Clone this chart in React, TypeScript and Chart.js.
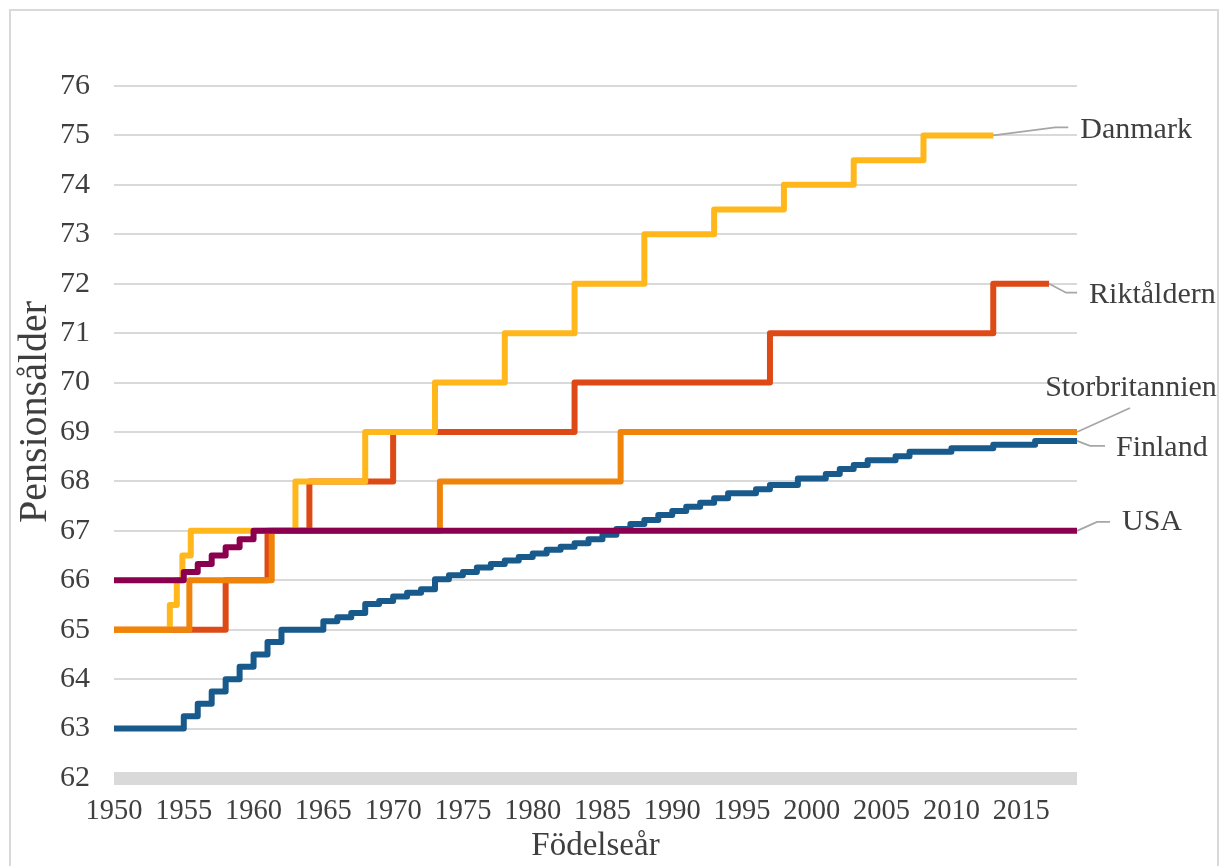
import React, { useEffect, useRef } from 'react';
import { Chart, registerables } from 'chart.js';

Chart.register(...registerables);

// ---- Data ----
const X_MIN = 1950;
const X_MAX = 2019;
const Y_MIN = 62;
const Y_MAX = 76;

const danmarkYears = [1950, 1954, 1954.5, 1954.9, 1955.5, 1963, 1968, 1973, 1978, 1983, 1988, 1993, 1998, 2003, 2008, 2013];
const danmarkAges = [65, 65.5, 66, 66.5, 67, 68, 69, 70, 71, 72, 73, 73.5, 74, 74.5, 75, 75];

const riktYears = [1950, 1958, 1961, 1964, 1970, 1983, 1997, 2013, 2017];
const riktAges = [65, 66, 67, 68, 69, 70, 71, 72, 72];

const ukYears = [1950, 1955.4, 1961.3, 1973.35, 1986.3, 2019];
const ukAges = [65, 66, 67, 68, 69, 69];

const finlandYears = [1950, 1955, 1956, 1957, 1958, 1959, 1960, 1961, 1962,
  1965, 1966, 1967, 1968, 1969, 1970, 1971, 1972, 1973, 1974,
  1975, 1976, 1977, 1978, 1979, 1980, 1981, 1982, 1983, 1984,
  1985, 1986, 1987, 1988, 1989, 1990, 1991, 1992, 1993, 1994,
  1996, 1997, 1999, 2001, 2002, 2003, 2004, 2006, 2007, 2010, 2013, 2016, 2019];
const finlandAges = [63, 63.25, 63.5, 63.75, 64, 64.25, 64.5, 64.75, 65,
  65.17, 65.25, 65.34, 65.52, 65.58, 65.67, 65.75, 65.82, 66.02, 66.1,
  66.17, 66.26, 66.33, 66.4, 66.47, 66.54, 66.62, 66.68, 66.75, 66.83,
  66.92, 67.04, 67.14, 67.22, 67.32, 67.4, 67.49, 67.57, 67.66, 67.76,
  67.84, 67.93, 68.06, 68.15, 68.25, 68.33, 68.43, 68.51, 68.6, 68.67, 68.74, 68.82, 68.82];

const usaYears = [1950, 1955, 1956, 1957, 1958, 1959, 1960, 2019];
const usaAges = [66, 66.17, 66.33, 66.5, 66.67, 66.83, 67, 67];

const seriesNames = ['Danmark', 'Riktåldern', 'Storbritannien', 'Finland', 'USA'];

const xTitle = 'Födelseår';
const yTitle = 'Pensionsålder';

// ---- Styles ----
const FONT = '"Liberation Serif", "Times New Roman", serif';
const TEXT = '#3f3f3f';
const GRID = '#d9d9d9';
const LEADER = '#a6a6a6';

const colors: Record<string, string> = {
  Danmark: '#FFB71B',
  'Riktåldern': '#DE4A16',
  Storbritannien: '#F0830A',
  Finland: '#175A8B',
  USA: '#8A004F',
};

// draw order: higher order drawn first (below)
const drawOrder: Record<string, number> = {
  'Riktåldern': 5,
  Danmark: 4,
  Storbritannien: 3,
  Finland: 2,
  USA: 1,
};

// leader line offsets and text offsets relative to the series end point (pixels)
const labelLayout: Record<string, { leader: number[][]; text: number[]; align: CanvasTextAlign }> = {
  Danmark: { leader: [[62, -8], [75, -8]], text: [87, -5], align: 'left' },
  'Riktåldern': { leader: [[17, 9], [28, 9]], text: [40, 11], align: 'left' },
  Storbritannien: { leader: [[53, -24]], text: [54, -44], align: 'center' },
  Finland: { leader: [[13, 5], [28, 5]], text: [39, 7], align: 'left' },
  USA: { leader: [[20, -9], [33, -9]], text: [45, -9], align: 'left' },
};

function toPoints(xs: number[], ys: number[]) {
  return xs.map((x, i) => ({ x, y: ys[i] }));
}

const seriesData: Record<string, { x: number; y: number }[]> = {
  Danmark: toPoints(danmarkYears, danmarkAges),
  'Riktåldern': toPoints(riktYears, riktAges),
  Storbritannien: toPoints(ukYears, ukAges),
  Finland: toPoints(finlandYears, finlandAges),
  USA: toPoints(usaYears, usaAges),
};

const frameAndLabels = {
  id: 'frameAndLabels',
  beforeDraw(chart: any) {
    const ctx = chart.ctx;
    ctx.save();
    ctx.fillStyle = '#ffffff';
    ctx.fillRect(0, 0, chart.width, chart.height);
    ctx.strokeStyle = GRID;
    ctx.lineWidth = 2;
    ctx.strokeRect(10, 10, chart.width - 13, chart.height + 20);
    ctx.restore();
  },
  beforeDatasetsDraw(chart: any) {
    const { ctx, chartArea } = chart;
    ctx.save();
    // thick horizontal axis bar
    ctx.fillStyle = GRID;
    ctx.fillRect(chartArea.left, chartArea.bottom - 6, chartArea.right - chartArea.left, 13);
    // y axis title
    ctx.fillStyle = TEXT;
    ctx.font = `40px ${FONT}`;
    ctx.textAlign = 'center';
    ctx.textBaseline = 'middle';
    ctx.translate(35, (chartArea.top + chartArea.bottom) / 2 - 20);
    ctx.rotate(-Math.PI / 2);
    ctx.fillText(yTitle, 0, 0);
    ctx.restore();
  },
  afterDatasetsDraw(chart: any) {
    const ctx = chart.ctx;
    ctx.save();
    chart.data.datasets.forEach((ds: any, i: number) => {
      const meta = chart.getDatasetMeta(i);
      const last = meta.data[meta.data.length - 1];
      const lay = labelLayout[ds.label];
      if (!last || !lay) return;
      const x0 = last.x;
      const y0 = last.y;
      ctx.strokeStyle = LEADER;
      ctx.lineWidth = 1.8;
      ctx.beginPath();
      ctx.moveTo(x0, y0);
      lay.leader.forEach((p) => ctx.lineTo(x0 + p[0], y0 + p[1]));
      ctx.stroke();
      ctx.fillStyle = TEXT;
      ctx.font = `30px ${FONT}`;
      ctx.textAlign = lay.align;
      ctx.textBaseline = 'middle';
      ctx.fillText(ds.label, x0 + lay.text[0], y0 + lay.text[1]);
    });
    ctx.restore();
  },
};

export default function App() {
  const ref = useRef<HTMLCanvasElement | null>(null);

  useEffect(() => {
    if (!ref.current) return;
    const chart = new Chart(ref.current, {
      type: 'line',
      data: {
        datasets: seriesNames.map((name) => ({
          label: name,
          data: seriesData[name],
          borderColor: colors[name],
          backgroundColor: colors[name],
          borderWidth: 6,
          stepped: true,
          pointRadius: 0,
          fill: false,
          order: drawOrder[name],
          borderJoinStyle: 'round' as const,
          borderCapStyle: 'butt' as const,
        })),
      },
      options: {
        animation: false,
        responsive: false,
        maintainAspectRatio: false,
        layout: { padding: { left: 0, top: 86, right: 144, bottom: 0 } },
        plugins: {
          legend: { display: false },
          tooltip: { enabled: false },
        },
        scales: {
          x: {
            type: 'linear',
            min: X_MIN,
            max: X_MAX,
            afterFit: (s: any) => { s.height = 88; },
            grid: { display: false, drawTicks: false },
            border: { display: false },
            ticks: {
              stepSize: 5,
              includeBounds: false,
              autoSkip: false,
              maxRotation: 0,
              padding: 16,
              color: TEXT,
              font: { family: FONT, size: 28.5 },
              callback: (v: any) => String(v),
            },
            title: {
              display: true,
              text: xTitle,
              color: TEXT,
              font: { family: FONT, size: 33 },
              padding: 0,
            },
          },
          y: {
            min: Y_MIN,
            max: Y_MAX,
            afterFit: (s: any) => { s.width = 114; },
            grid: { color: GRID, lineWidth: 2, drawTicks: false },
            border: { display: false },
            ticks: {
              stepSize: 1,
              padding: 24,
              color: TEXT,
              font: { family: FONT, size: 30 },
            },
            title: { display: false },
          },
        },
      },
      plugins: [frameAndLabels],
    });
    return () => chart.destroy();
  }, []);

  return (
    <div style={{ position: 'absolute', left: 0, top: 0, width: 1221, height: 866, overflow: 'hidden' }}>
      <canvas ref={ref} width={1221} height={866} style={{ display: 'block', width: 1221, height: 866 }} />
    </div>
  );
}
